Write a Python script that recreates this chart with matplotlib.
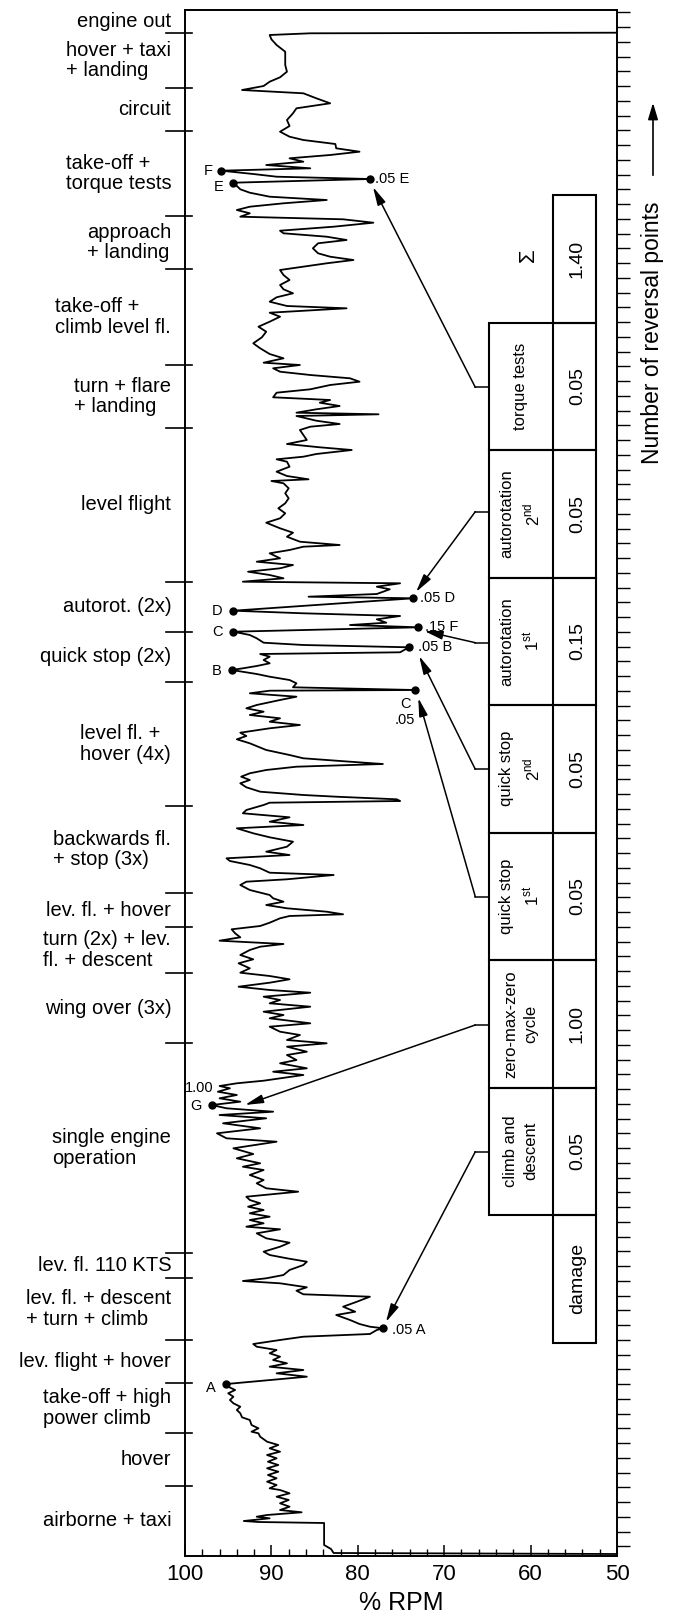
import numpy as np
import matplotlib.pyplot as plt
import matplotlib.transforms as mtransforms
from matplotlib.patches import Rectangle, FancyArrowPatch

plt.rcParams['font.family'] = ['Liberation Sans', 'DejaVu Sans']

# rotor speed record: (time from start, % RPM); time runs upwards
trace = [
    (2, 50.0), (3, 82.8), (7, 83.1), (11, 83.9), (33, 83.9), (34, 91.5), (35, 93.2),
    (37.7, 90.2), (39.3, 91.7), (41, 90.5), (43.7, 86.5), (46, 89.0), (49.3, 87.9),
    (52.7, 89.0), (56, 88.0), (59.3, 89.4), (62.7, 87.9), (66, 89.0), (67.7, 90.2),
    (71, 89.4), (74.3, 90.5), (77.7, 89.4), (81, 90.4), (84.3, 89.2), (87.7, 90.5),
    (91, 89.2), (94.3, 90.4), (97.7, 89.4), (101, 90.5), (104.3, 89.0), (107.7, 90.2),
    (111, 89.2), (114.3, 90.5), (119.3, 91.3), (122.7, 91.5), (124.3, 92.3), (127.7, 91.5),
    (131, 92.3), (136, 92.5), (138.7, 93.4), (142.7, 93.6), (146, 94.0), (149.3, 93.6),
    (152.7, 94.4), (156, 94.8),
    (159.3, 94.4), (162.7, 95.0), (166, 94.2), (169.3, 95.0), (172, 95.2), (179.3, 85.9),
    (182.7, 89.4), (186, 86.3), (189.3, 90.2), (192.7, 88.2), (196, 89.8), (199.3, 89.0),
    (202.7, 90.2), (206, 89.4), (209.3, 91.7), (212, 92.1), (216, 89.0), (219.3, 86.3),
    (222, 78.6), (226, 77.8), (227.7, 77.05), (229.3, 78.6), (232, 79.8), (236, 80.9),
    (241, 82.5), (244.3, 80.3), (249.3, 81.7), (254.3, 80.1), (259.3, 78.6), (261.7, 86.3),
    (265.3, 87.1), (268.7, 85.9), (272.7, 89.0), (275, 93.3), (277.7, 90.6), (281, 88.6),
    (286, 87.9), (291, 86.3), (294.3, 85.9), (297.7, 88.2), (301, 90.2), (304.3, 90.9),
    (309.3, 89.0), (313.3, 87.9), (317.7, 90.6), (322.7, 91.7), (326.7, 89.0), (329.3, 92.9),
    (332.7, 90.9), (336, 92.5), (339.3, 90.2), (342.7, 92.5), (346, 90.9), (349.3, 92.7),
    (352.7, 91.3), (356, 92.5),
    (359.3, 92.9), (364.3, 86.9), (367.7, 90.6), (372.7, 91.7), (376, 90.9), (381, 92.5),
    (386, 90.9), (389.3, 93.3), (392.7, 91.3), (397.7, 94.0), (402, 92.1), (407.7, 94.4),
    (414.3, 89.4), (417.7, 95.2), (422.7, 96.3), (427.7, 91.3), (432.7, 95.6), (437.7, 90.6),
    (441, 96.0), (444.3, 89.8), (447.7, 95.2), (451, 96.9), (454.3, 93.6), (457.7, 96.0),
    (461, 94.0), (464.3, 96.2), (467.7, 94.8), (470, 96.0), (472.7, 94.0), (475.3, 90.9),
    (477.7, 89.0), (481, 86.3), (484.3, 89.8), (487.7, 85.9), (492.7, 89.0), (496, 87.1),
    (501, 88.2), (504.3, 85.9), (509.3, 88.2), (512.7, 83.6), (516, 88.2), (521, 86.7),
    (524.3, 89.0), (529.3, 90.2), (532.7, 85.5), (537.7, 90.2), (541, 88.6), (544.3, 90.9),
    (549.3, 85.5), (552.7, 90.2), (556, 89.0),
    (559.3, 90.9), (563.3, 85.5), (566, 90.2), (569.3, 93.8), (573.3, 90.2), (576.7, 87.9),
    (580, 90.2), (583.3, 93.6), (587.7, 92.5), (592.7, 93.8), (596.7, 92.1), (601, 93.6),
    (606, 92.5), (609.3, 91.3), (612, 88.6), (615.3, 96.0), (618.7, 93.6), (622.7, 94.2),
    (626.7, 94.6), (630, 91.3), (633.3, 90.2), (637.7, 89.0), (640, 87.9), (641.7, 81.7),
    (644.3, 83.6), (647.7, 88.2), (651, 90.6), (654.3, 88.6), (657.7, 89.8), (661, 90.2),
    (666, 92.5), (671, 93.6), (674.3, 92.9), (676.7, 88.2), (681, 82.8), (683.3, 90.2),
    (687.7, 91.3), (691, 92.5), (695, 94.8), (697.7, 95.2), (701, 87.9), (704.3, 90.6),
    (709.3, 88.2), (714.3, 87.5), (718.7, 90.2), (722.7, 92.1), (727.7, 94.0), (731, 86.3),
    (734.3, 90.2), (738.7, 87.9), (742.7, 93.3), (746, 92.9), (751, 90.9), (753.3, 90.2),
    (755, 75.1),
    (756.7, 75.5), (759.3, 82.5), (761, 86.3), (764.3, 91.3), (768.7, 92.9), (772.7, 93.6),
    (776, 92.5), (779.3, 93.5), (782.7, 92.5), (786, 90.6), (789.3, 87.1), (792, 77.1),
    (794.3, 80.9), (797.7, 86.3), (801, 87.9), (806, 90.6), (812.7, 92.5), (816.7, 94.0),
    (820, 92.9), (823.3, 93.6), (827.7, 90.2), (831, 86.7), (834.3, 90.2), (837.7, 89.0),
    (841, 92.5), (844.3, 90.9), (847.7, 92.9), (851, 91.7), (856, 89.0), (859.3, 87.1),
    (862.7, 92.5), (865.3, 90.2), (866, 73.4), (868.7, 87.5), (872.7, 87.1), (876, 87.9),
    (879.3, 90.2), (882, 91.7), (886, 94.6), (887.7, 93.3), (890, 91.7), (892.7, 90.2),
    (896, 90.9), (899.3, 90.2), (902, 91.3), (903.7, 75.1), (908.7, 74.1), (911, 86.3),
    (913.3, 90.9), (917.7, 91.7), (921, 92.5), (924.3, 94.4), (928.7, 73.0), (931, 80.9),
    (933.3, 76.7), (936.7, 77.8), (940, 75.1), (942.7, 86.3), (945.3, 94.4),
    (957.7, 73.6), (959.3, 85.7), (962, 77.8), (966.7, 76.3), (969.3, 77.8), (972.7, 75.1),
    (974.3, 93.3), (977.7, 88.6), (981, 90.2), (984.3, 92.7), (987.7, 89.0), (991, 87.5),
    (994.3, 91.7), (997.7, 89.0), (1002.7, 90.2), (1006, 87.9), (1009.3, 86.3), (1011, 82.1),
    (1014.3, 86.7), (1019.3, 88.2), (1023.3, 87.5), (1027.7, 89.0), (1033.3, 90.6),
    (1037.7, 89.0), (1042.7, 88.4), (1047.7, 89.2), (1052.7, 88.4), (1057.7, 88.0),
    (1062.7, 88.4), (1067.7, 88.0), (1072.7, 88.6), (1075, 90.0), (1076.7, 85.7),
    (1080, 88.2), (1084.3, 89.4), (1089.3, 87.9), (1094.3, 88.2), (1096.7, 89.4),
    (1099.3, 86.3), (1102, 84.8), (1106, 80.7), (1108.7, 84.4), (1112, 88.2), (1116, 85.9),
    (1121, 86.3), (1126, 86.7), (1129.3, 85.5), (1132, 82.1), (1135.3, 84.8), (1140, 87.1),
    (1141.7, 77.6), (1143.3, 87.1), (1146.7, 84.8), (1150, 82.1), (1153.3, 84.4), (1156, 83.2),
    (1158.7, 89.8), (1163.3, 89.4), (1166.7, 85.5), (1171, 83.2), (1174.3, 79.8),
    (1177.7, 80.9), (1181, 85.5), (1184.3, 89.0), (1187.7, 89.8), (1191, 86.7), (1193.3, 90.9),
    (1197.7, 88.6), (1202, 90.2), (1207.7, 91.3), (1212.7, 92.1), (1218.7, 91.1),
    (1224.3, 90.6), (1229.3, 91.5), (1234.3, 90.2), (1239.3, 89.0), (1243.3, 90.2),
    (1247.7, 81.3), (1250, 88.2), (1254.3, 90.2), (1258.7, 89.4), (1262.7, 87.5),
    (1266.7, 88.6), (1271, 89.0), (1276, 87.9), (1281, 88.6), (1286, 89.0), (1289.3, 86.3),
    (1292.7, 83.6), (1296, 80.5), (1299.3, 83.2), (1302.7, 84.6), (1307.7, 85.2),
    (1312.7, 84.6), (1316, 81.3), (1319.3, 83.6), (1322.7, 88.6), (1325.3, 89.0),
    (1329.3, 82.8), (1333.3, 78.2), (1336.7, 81.7), (1339.3, 93.6), (1342.7, 92.5),
    (1346, 94.0), (1349.3, 92.5), (1352.7, 88.6), (1356, 83.6),
    (1359.3, 90.2), (1363.3, 92.5), (1366.7, 93.6), (1373.3, 94.4), (1377, 78.6),
    (1379.3, 89.4), (1382, 92.1), (1385.3, 95.8), (1387.7, 85.5), (1391, 90.6),
    (1394.3, 86.3), (1397.7, 87.9), (1401, 83.2), (1404.3, 79.8), (1407.7, 82.5),
    (1412, 82.6), (1416, 86.3), (1419.3, 87.9), (1424.3, 89.0), (1430, 87.9), (1436, 88.2),
    (1442.7, 87.5), (1447.7, 87.1), (1452.7, 83.2), (1457.7, 84.8), (1462.7, 86.3),
    (1466, 93.4), (1470, 90.9), (1474.3, 90.2), (1478.7, 89.0), (1484.3, 88.2),
    (1491, 88.4), (1497.7, 88.4), (1504.3, 88.4), (1511, 89.4), (1516.7, 90.0),
    (1521, 90.2), (1522.7, 85.5), (1523.3, 50.0),
]
t_vals = np.array([p[0] for p in trace])
rpm_vals = np.array([p[1] for p in trace])

# flight phases from top to bottom, with their boundaries on the time axis
phases = ["engine out", "hover + taxi\n+ landing", "circuit", "take-off +\ntorque tests",
          "approach\n+ landing", "take-off +\nclimb level fl.", "turn + flare\n+ landing",
          "level flight", "autorot. (2x)", "quick stop (2x)", "level fl. +\nhover (4x)",
          "backwards fl.\n+ stop (3x)", "lev. fl. + hover", "turn (2x) + lev.\nfl. + descent",
          "wing over (3x)", "single engine\noperation", "lev. fl. 110 KTS",
          "lev. fl. + descent\n+ turn + climb", "lev. flight + hover",
          "take-off + high\npower climb", "hover", "airborne + taxi"]
bounds = [1546, 1523, 1468, 1425, 1340, 1287, 1191, 1128, 974, 924, 874, 750, 663,
          629, 583, 513, 303, 278, 216, 173, 123, 70, 0]

# reversal points marked on the record
rev_rpm = [95.8, 94.4, 78.6, 94.4, 73.6, 94.4, 73.0, 94.6, 74.1, 73.4, 96.9, 95.2, 77.05]
rev_t = [1385.3, 1373.3, 1377, 945.3, 957.7, 924.3, 928.7, 886, 908.7, 866, 451, 172, 227.7]
rev_text = ["F", "E", ".05 E", "D", ".05 D", "C", ".15 F", "B", ".05 B", "C\n.05", "G", "A", ".05 A"]

# damage table
dmg_labels = ["torque tests", "autorotation\n2$^{\\mathregular{nd}}$",
              "autorotation\n1$^{\\mathregular{st}}$", "quick stop\n2$^{\\mathregular{nd}}$",
              "quick stop\n1$^{\\mathregular{st}}$", "zero-max-zero\ncycle", "climb and\ndescent"]
dmg_values = ["0.05", "0.05", "0.15", "0.05", "0.05", "1.00", "0.05"]
dmg_total = "1.40"

fig = plt.figure(figsize=(6.78, 16.16), dpi=100)
ax = fig.add_axes([185 / 678, 1 - 1556 / 1616, 432 / 678, 1546 / 1616])

ax.plot(rpm_vals, t_vals, color='black', lw=1.3)
ax.plot(rev_rpm, rev_t, 'o', color='black', ms=5)

ax.set_xlim(100, 50)
ax.set_ylim(0, 1546)
for s in ax.spines.values():
    s.set_linewidth(1.4)

ax.set_xticks([100, 90, 80, 70, 60, 50])
ax.set_xticks(np.arange(50, 101, 2), minor=True)
ax.tick_params(axis='x', which='major', direction='in', length=8, width=1.1, labelsize=16, pad=6)
ax.tick_params(axis='x', which='minor', direction='in', length=5, width=1.0)
ax.set_xlabel('% RPM', fontsize=18, labelpad=4)

# right axis: reversal point count ticks
ax.yaxis.tick_right()
ax.set_yticks(np.arange(9.7, 1546, 14.75))
ax.set_yticklabels([])
ax.tick_params(axis='y', direction='out', length=9.5, width=1.0)

# phase labels and boundary marks on the left
trans = mtransforms.blended_transform_factory(ax.transAxes, ax.transData)
for i, name in enumerate(phases):
    yc = (bounds[i] + bounds[i + 1]) / 2
    ax.text(-0.032, yc, name, transform=trans, ha='right', va='center',
            multialignment='left', fontsize=14.5, linespacing=1.1)
for b in bounds[1:-1]:
    ax.plot([-0.045, 0.016], [b, b], transform=trans, color='black', lw=1.2, clip_on=False)

# labels at the reversal points
rev_off = [(-6, 0, 'right', 'center'), (-7, -3, 'right', 'center'), (4, 0, 'left', 'center'),
           (-8, 0, 'right', 'center'), (5, 0, 'left', 'center'), (-8, 0, 'right', 'center'),
           (5, 0, 'left', 'center'), (-7, -1, 'right', 'center'), (7, 0, 'left', 'center'),
           (-7, -5, 'center', 'top'), (-7, -1, 'right', 'center'), (-8, -3, 'right', 'center'),
           (6, -1, 'left', 'center')]
for x, y, s, (dx, dy, ha, va) in zip(rev_rpm, rev_t, rev_text, rev_off):
    ax.annotate(s, (x, y), xytext=(dx, dy), textcoords='offset points', ha=ha, va=va,
                fontsize=10.5, multialignment='center', linespacing=1.2)
ax.annotate("1.00", (96.9, 451), xytext=(1, 12), textcoords='offset points',
            ha='right', va='center', fontsize=10.5)

# damage table
x_left, x_mid, x_right = 64.8, 57.45, 52.4
row_top, row_h = 1361, 127.5
lab_x = (x_left + x_mid) / 2
val_x = 54.6
tb = row_top - row_h
ax.add_patch(Rectangle((x_right, tb), x_mid - x_right, row_h, fill=False, lw=1.5, clip_on=False))
ax.text(val_x, tb + row_h / 2, dmg_total, rotation=90, ha='center', va='center', fontsize=14)
ax.text(60.3, 1301, "Σ", rotation=90, ha='center', va='center', fontsize=16)

# connector start heights and arrow tips for every row
conn_t = [1168.7, 1044.3, 913.3, 786.7, 659.3, 531, 404.3]
tip_rpm = [78.24, 73.26, 72.3, 72.9, 73.0, 93.06, 76.74]
tip_t = [1369, 964, 925, 900, 858, 451, 234]

for i, (lab, val) in enumerate(zip(dmg_labels, dmg_values)):
    top = row_top - (i + 1) * row_h
    bot = top - row_h
    ax.add_patch(Rectangle((x_right, bot), x_left - x_right, row_h, fill=False, lw=1.5))
    ax.plot([x_mid, x_mid], [bot, top], color='black', lw=1.5)
    ax.text(lab_x, bot + row_h / 2, lab, rotation=90, ha='center', va='center',
            fontsize=12, multialignment='center', linespacing=1.45)
    ax.text(val_x, bot + row_h / 2, val, rotation=90, ha='center', va='center', fontsize=14)
    ax.plot([x_left, 66.4], [conn_t[i], conn_t[i]], color='black', lw=1.1)
    ax.annotate('', xy=(tip_rpm[i], tip_t[i]), xytext=(66.4, conn_t[i]),
                arrowprops=dict(arrowstyle='-|>,head_length=0.55,head_width=0.13',
                                mutation_scale=20, color='black', lw=1.1,
                                shrinkA=0, shrinkB=0))

db = row_top - 9 * row_h
ax.add_patch(Rectangle((x_right, db), x_mid - x_right, row_h, fill=False, lw=1.5))
ax.text(val_x, db + row_h / 2, "damage", rotation=90, ha='center', va='center', fontsize=14)

# right hand label with arrow
fig.text(653 / 678, 1 - 333 / 1616, "Number of reversal points", rotation=90,
         ha='center', va='center', fontsize=16.5)
fig.patches.append(FancyArrowPatch(
    (653 / 678, 1 - 178 / 1616), (653 / 678, 1 - 100 / 1616), transform=fig.transFigure,
    arrowstyle='-|>,head_length=0.5,head_width=0.15', mutation_scale=20, color='black', lw=1.2))

fig.savefig('out.png', dpi=100)
